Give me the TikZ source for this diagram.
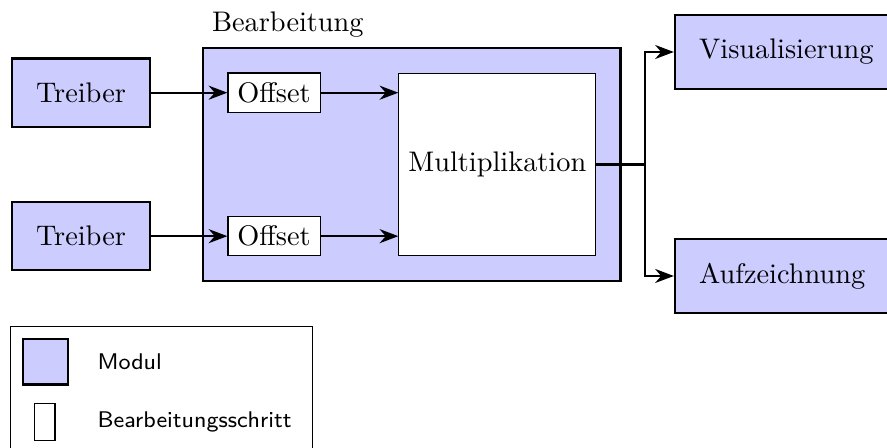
\documentclass[tikz,border=0pt]{standalone}
\usepackage{amsmath}
\usepackage{tikz}
\usetikzlibrary{fit,backgrounds,arrows.meta}

\begin{document}
\begin{tikzpicture}[
    modul/.style={draw, thick, fill=blue!20, inner sep=0.3cm},
    schritt/.style={draw, fill=white},
    pfeil/.style={-Stealth, thick}
]
    \useasboundingbox (0,0) rectangle (11.005,-5.558);

    \node[modul] (T1) at (1.005,-1.15) {Treiber};
    \node[modul] (T2) at (1.005,-2.93) {Treiber};
    \node[schritt] (O1) at (3.40,-1.15) {Offset};
    \node[schritt] (O2) at (3.40,-2.93) {Offset};
    \node[schritt, minimum height=2.26cm] (M) at (6.17,-2.04) {Multiplikation};
    \begin{scope}[on background layer]
        \node[modul, fit=(O1)(O2)(M), label={[anchor=south west]north west:Bearbeitung}] (B) {};
    \end{scope}
    \node[modul, anchor=west] (V) at (8.36,-0.645) {Visualisierung};
    \node[modul, anchor=west] (A) at (8.36,-3.424) {Aufzeichnung};

    \draw[pfeil] (T1) -- (O1);
    \draw[pfeil] (T2) -- (O2);
    \draw[pfeil] (O1) -- (O1 -| M.west);
    \draw[pfeil] (O2) -- (O2 -| M.west);
    \draw[pfeil] (M.east) -- ++(0.6,0) coordinate (S) |- (V.west);
    \draw[pfeil] (S) |- (A.west);

    % Legende
    \node[modul, inner sep=0pt, minimum size=0.56cm] (LM) at (0.565,-4.49) {};
    \node[draw, inner sep=0pt, minimum width=0.25cm, minimum height=0.46cm] (LS) at (0.558,-5.236) {};
    \node[anchor=west, font=\footnotesize\sffamily] (LMt) at (1.086,-4.49) {Modul};
    \node[anchor=west, font=\footnotesize\sffamily] (LSt) at (1.086,-5.236) {Bearbeitungsschritt};
    \node[draw, fit=(LM)(LS)(LMt)(LSt), inner sep=4pt] (L) {};
\end{tikzpicture}
\end{document}
